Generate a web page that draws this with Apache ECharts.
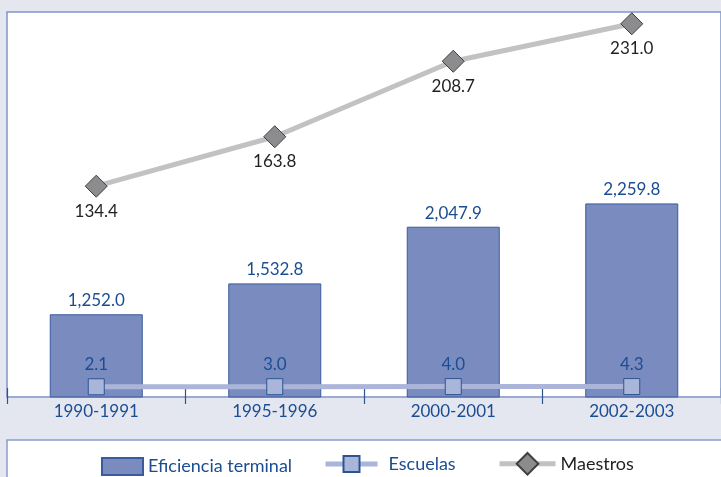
<!DOCTYPE html>
<html style="height: 100%">

<head>
    <meta charset="utf-8">
</head>

<body style="height: 100%; margin: 0">
    <div id="container" style="width: 721px; height: 477px"></div>
    <script type="text/javascript" src="https://cdn.jsdelivr.net/npm/echarts@6/dist/echarts.min.js"></script>
    <script type="text/javascript">
        var categories = ['1990-1991', '1995-1996', '2000-2001', '2002-2003'];
        var eficiencia = [1252.0, 1532.8, 2047.9, 2259.8];
        var escuelas = [2.1, 3.0, 4.0, 4.3];
        var maestros = [134.4, 163.8, 208.7, 231.0];

        var blueText = '#1b4d93';
        var font = 'Lato';

        function fmt(v) {
            return Number(v).toLocaleString('en-US', { minimumFractionDigits: 1, maximumFractionDigits: 1 });
        }

        var dom = document.getElementById("container");
        var myChart = echarts.init(dom);
        var option = {
            backgroundColor: '#e4e7f0',
            animation: false,
            textStyle: { fontFamily: font },
            grid: {
                left: 7, top: 12, right: -3, bottom: 80,
                show: true,
                backgroundColor: '#ffffff',
                borderColor: '#7f95c8',
                borderWidth: 1.5
            },
            graphic: [
                {
                    type: 'rect',
                    shape: { x: 7, y: 440, width: 730, height: 60 },
                    style: { fill: '#ffffff', stroke: '#8a9dcc', lineWidth: 1.5 },
                    z: -1
                }
            ],
            legend: [
                {
                    data: [{ name: 'Eficiencia terminal', icon: 'rect' }],
                    left: 96, top: 452,
                    itemWidth: 41, itemHeight: 17,
                    textStyle: { color: blueText, fontSize: 18, fontFamily: font }
                },
                {
                    data: ['Escuelas'],
                    left: 318, top: 450,
                    itemWidth: 52, itemHeight: 20,
                    lineStyle: { width: 5 },
                    textStyle: { color: blueText, fontSize: 18, fontFamily: font, padding: [0, 0, 0, 6] }
                },
                {
                    data: ['Maestros'],
                    left: 492, top: 447,
                    itemWidth: 56, itemHeight: 27,
                    lineStyle: { width: 5 },
                    textStyle: { color: '#231f20', fontSize: 18, fontFamily: font }
                }
            ],
            xAxis: [
                {
                    type: 'category',
                    data: categories,
                    axisLine: { onZero: false, lineStyle: { color: '#9aaad2', width: 1.5 } },
                    axisTick: { show: true, length: 7, lineStyle: { color: '#2c5491', width: 1.2 } },
                    axisLabel: { color: blueText, fontSize: 17, fontFamily: font, margin: 6 }
                },
                {
                    type: 'category',
                    data: categories,
                    position: 'bottom',
                    axisLine: { show: false, onZero: false },
                    axisTick: { show: true, inside: true, length: 9, lineStyle: { color: '#2c5491', width: 1.2 } },
                    axisLabel: { show: false }
                }
            ],
            yAxis: [
                { type: 'value', min: 500, max: 4000, show: false, splitLine: { show: false } },
                { type: 'value', min: 9, max: 238, show: false, splitLine: { show: false } },
                { type: 'value', min: -100, max: 3750, show: false, splitLine: { show: false } }
            ],
            series: [
                {
                    name: 'Eficiencia terminal',
                    type: 'bar',
                    yAxisIndex: 0,
                    barWidth: 93,
                    itemStyle: { color: '#7a8cbf', borderColor: '#3a5b9e', borderWidth: 1 },
                    label: {
                        show: true, position: 'top', distance: 5,
                        color: blueText, fontSize: 17, fontFamily: font,
                        formatter: function (p) { return fmt(p.value); }
                    },
                    data: eficiencia
                },
                {
                    name: 'Escuelas',
                    type: 'line',
                    yAxisIndex: 2,
                    symbol: 'rect',
                    symbolSize: 16,
                    lineStyle: { color: '#aab5d9', width: 5 },
                    itemStyle: { color: '#a9b6da', borderColor: '#2c5491', borderWidth: 1 },
                    label: {
                        show: true, position: 'top', distance: 5,
                        color: blueText, fontSize: 17, fontFamily: font,
                        formatter: function (p) { return fmt(p.value); }
                    },
                    z: 3,
                    data: escuelas
                },
                {
                    name: 'Maestros',
                    type: 'line',
                    yAxisIndex: 1,
                    symbol: 'diamond',
                    symbolSize: 22,
                    lineStyle: { color: '#c2c2c4', width: 5 },
                    itemStyle: { color: '#8c8c8e', borderColor: '#3f3f41', borderWidth: 1 },
                    label: {
                        show: true, position: 'bottom', distance: 5,
                        color: '#231f20', fontSize: 17, fontFamily: font,
                        formatter: function (p) { return fmt(p.value); }
                    },
                    z: 3,
                    data: maestros
                }
            ]
        };

        myChart.setOption(option, true);
    </script>
</body>

</html>
